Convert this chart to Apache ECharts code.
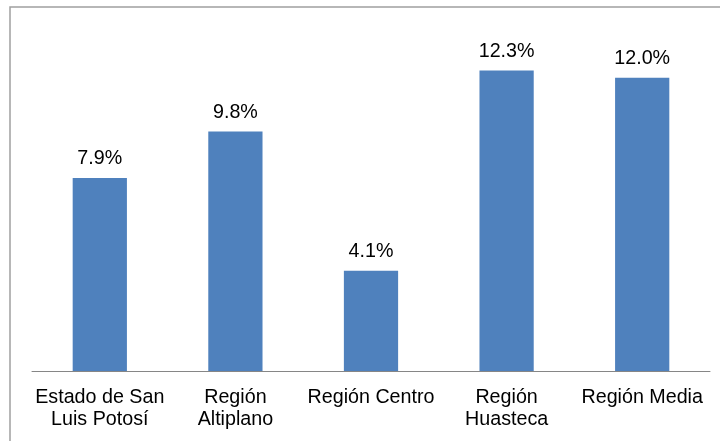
<!DOCTYPE html>
<html>
<head>
<meta charset="utf-8">
<script src="https://cdn.jsdelivr.net/npm/echarts@6/dist/echarts.min.js"></script>
<style>html,body{margin:0;padding:0;background:#fff}#c{width:720px;height:441px}</style>
</head>
<body>
<div id="c"></div>
<script>
const categories = ["Estado de San\nLuis Potosí", "Región\nAltiplano", "Región Centro", "Región\nHuasteca", "Región Media"];
const values = [7.9, 9.8, 4.1, 12.3, 12.0];

const chart = echarts.init(document.getElementById('c'), null, {renderer: 'canvas'});
const font = 'Liberation Sans, Arial, sans-serif';
chart.setOption({
  animation: false,
  backgroundColor: '#ffffff',
  graphic: [{
    type: 'rect',
    shape: {x: 10, y: 7, width: 740, height: 460},
    style: {fill: 'none', stroke: '#A0A0A0', lineWidth: 1.5},
    silent: true
  }],
  grid: {left: 32, right: 10, top: 29, bottom: 70, containLabel: false},
  xAxis: {
    type: 'category',
    data: categories,
    axisLine: {lineStyle: {color: '#868686', width: 1}},
    axisTick: {show: false},
    axisLabel: {color: '#000', fontFamily: font, fontSize: 19.7, lineHeight: 22, margin: 16, interval: 0}
  },
  yAxis: {
    type: 'value',
    min: 0, max: 14,
    show: false,
    splitLine: {show: false}
  },
  series: [{
    type: 'bar',
    data: values,
    barWidth: '40%',
    itemStyle: {color: '#4F81BD'},
    label: {
      show: true,
      position: 'top',
      distance: 9,
      color: '#000',
      fontFamily: font,
      fontSize: 19.7,
      formatter: p => p.value.toFixed(1) + '%'
    }
  }]
});
</script>
</body>
</html>
